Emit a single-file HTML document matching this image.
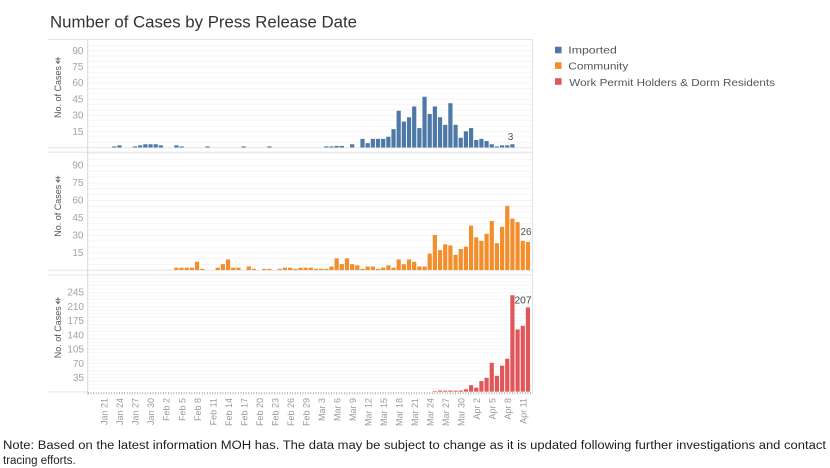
<!DOCTYPE html>
<html>
<head>
<meta charset="utf-8">
<style>
html,body{margin:0;padding:0;background:#fff;}
svg{display:block;}
text{font-family:"Liberation Sans",Arial,sans-serif;}
</style>
</head>
<body>
<svg width="830" height="468" viewBox="0 0 830 468" xmlns="http://www.w3.org/2000/svg">
<defs>
<pattern id="gT" patternUnits="userSpaceOnUse" x="0" y="147.5" width="10" height="5.4"><rect x="0" y="0" width="10" height="0.7" fill="#f0f0f0"/></pattern>
<pattern id="gM" patternUnits="userSpaceOnUse" x="0" y="270" width="10" height="5.835"><rect x="0" y="0" width="10" height="0.7" fill="#f0f0f0"/></pattern>
<pattern id="gB" patternUnits="userSpaceOnUse" x="0" y="391.7" width="10" height="3.56"><rect x="0" y="0" width="10" height="0.6" fill="#f2f2f2"/></pattern>
</defs>
<rect width="830" height="468" fill="#fff"/>

<!-- Title -->
<text x="50" y="27.3" font-size="17" fill="#333" textLength="307" lengthAdjust="spacingAndGlyphs">Number of Cases by Press Release Date</text>

<!-- gridlines -->
<rect x="88" y="41" width="444" height="105" fill="url(#gT)"/>
<rect x="88" y="153" width="444" height="116" fill="url(#gM)"/>
<rect x="88" y="276" width="444" height="115" fill="url(#gB)"/>

<!-- pane borders -->
<g stroke="#e3e3e3" stroke-width="1" fill="none">
<line x1="48" y1="39.5" x2="533" y2="39.5"/>
<line x1="48" y1="147.8" x2="533" y2="147.8"/>
<line x1="48" y1="152.3" x2="533" y2="152.3"/>
<line x1="48" y1="270.3" x2="533" y2="270.3"/>
<line x1="48" y1="275" x2="533" y2="275"/>
<line x1="48" y1="391.9" x2="88" y2="391.9"/>
<line x1="532.5" y1="39.5" x2="532.5" y2="392"/>
</g>
<line x1="87.7" y1="39.5" x2="87.7" y2="395" stroke="#d8d8d8" stroke-width="1"/>
<line x1="88" y1="393.2" x2="533" y2="393.2" stroke="#b5b5b5" stroke-width="2.4" stroke-dasharray="0.9 1.685"/>

<!-- Y tick labels -->
<g font-size="10" fill="#a3a3a3" text-anchor="end">
<text x="83.5" y="53.8">90</text>
<text x="83.5" y="70">75</text>
<text x="83.5" y="86.2">60</text>
<text x="83.5" y="102.4">45</text>
<text x="83.5" y="118.6">30</text>
<text x="83.5" y="134.8">15</text>

<text x="83.5" y="168.5">90</text>
<text x="83.5" y="186">75</text>
<text x="83.5" y="203.5">60</text>
<text x="83.5" y="221">45</text>
<text x="83.5" y="238.5">30</text>
<text x="83.5" y="256">15</text>

<text x="84" y="295.6">245</text>
<text x="84" y="309.8">210</text>
<text x="84" y="324.1">175</text>
<text x="84" y="338.4">140</text>
<text x="84" y="352.6">105</text>
<text x="84" y="366.9">70</text>
<text x="84" y="381.1">35</text>
</g>

<!-- Y axis titles -->
<g font-size="9" fill="#555">
<text transform="translate(61.2,118) rotate(-90)" textLength="52" lengthAdjust="spacingAndGlyphs">No. of Cases</text>
<text transform="translate(61.2,236.7) rotate(-90)" textLength="52" lengthAdjust="spacingAndGlyphs">No. of Cases</text>
<text transform="translate(61.2,358.3) rotate(-90)" textLength="52" lengthAdjust="spacingAndGlyphs">No. of Cases</text>
</g>
<g stroke="#666" stroke-width="0.9" fill="none">
<path d="M55.5,59 L60.5,59 M58,57 L58,63.5 M56,61 L58,63.5 L60,61"/>
<path d="M55.5,177.7 L60.5,177.7 M58,175.7 L58,182.2 M56,179.7 L58,182.2 L60,179.7"/>
<path d="M55.5,299.3 L60.5,299.3 M58,297.3 L58,303.8 M56,301.3 L58,303.8 L60,301.3"/>
</g>

<!-- Imported (top) -->
<g fill="#4e79a7">
<rect x="112.24" y="146.42" width="4.2" height="1.08"/>
<rect x="117.41" y="145.34" width="4.2" height="2.16"/>
<rect x="132.92" y="146.42" width="4.2" height="1.08"/>
<rect x="138.09" y="145.34" width="4.2" height="2.16"/>
<rect x="143.26" y="144.26" width="4.2" height="3.24"/>
<rect x="148.43" y="144.26" width="4.2" height="3.24"/>
<rect x="153.6" y="144.26" width="4.2" height="3.24"/>
<rect x="158.77" y="145.34" width="4.2" height="2.16"/>
<rect x="174.28" y="145.34" width="4.2" height="2.16"/>
<rect x="179.45" y="146.42" width="4.2" height="1.08"/>
<rect x="205.3" y="146.42" width="4.2" height="1.08"/>
<rect x="241.49" y="146.42" width="4.2" height="1.08"/>
<rect x="267.34" y="146.42" width="4.2" height="1.08"/>
<rect x="324.21" y="146.42" width="4.2" height="1.08"/>
<rect x="329.38" y="146.42" width="4.2" height="1.08"/>
<rect x="334.55" y="145.9" width="4.2" height="1.6"/>
<rect x="339.72" y="145.9" width="4.2" height="1.6"/>
<rect x="350.06" y="144.26" width="4.2" height="3.24"/>
<rect x="360.4" y="138.86" width="4.2" height="8.64"/>
<rect x="365.57" y="143.18" width="4.2" height="4.32"/>
<rect x="370.74" y="138.86" width="4.2" height="8.64"/>
<rect x="375.91" y="138.86" width="4.2" height="8.64"/>
<rect x="381.08" y="138.86" width="4.2" height="8.64"/>
<rect x="386.25" y="136.7" width="4.2" height="10.8"/>
<rect x="391.42" y="129.14" width="4.2" height="18.36"/>
<rect x="396.59" y="110.78" width="4.2" height="36.72"/>
<rect x="401.76" y="121.58" width="4.2" height="25.92"/>
<rect x="406.93" y="117.26" width="4.2" height="30.24"/>
<rect x="412.1" y="106.46" width="4.2" height="41.04"/>
<rect x="417.27" y="128.06" width="4.2" height="19.44"/>
<rect x="422.44" y="96.74" width="4.2" height="50.76"/>
<rect x="427.61" y="114.02" width="4.2" height="33.48"/>
<rect x="432.78" y="106.46" width="4.2" height="41.04"/>
<rect x="437.95" y="117.26" width="4.2" height="30.24"/>
<rect x="443.12" y="124.82" width="4.2" height="22.68"/>
<rect x="448.29" y="103.22" width="4.2" height="44.28"/>
<rect x="453.46" y="124.82" width="4.2" height="22.68"/>
<rect x="458.63" y="137.78" width="4.2" height="9.72"/>
<rect x="463.8" y="131.3" width="4.2" height="16.2"/>
<rect x="468.97" y="128.06" width="4.2" height="19.44"/>
<rect x="474.14" y="139.94" width="4.2" height="7.56"/>
<rect x="479.31" y="138.86" width="4.2" height="8.64"/>
<rect x="484.48" y="141.02" width="4.2" height="6.48"/>
<rect x="489.65" y="144.26" width="4.2" height="3.24"/>
<rect x="494.82" y="146.42" width="4.2" height="1.08"/>
<rect x="499.99" y="145.34" width="4.2" height="2.16"/>
<rect x="505.16" y="145.34" width="4.2" height="2.16"/>
<rect x="510.33" y="144.26" width="4.2" height="3.24"/>
</g>
<text x="510.5" y="140.2" font-size="10" fill="#555" text-anchor="middle">3</text>

<!-- Community (middle) -->
<g fill="#f28e2b">
<rect x="174.28" y="267.67" width="4.2" height="2.33"/>
<rect x="179.45" y="267.67" width="4.2" height="2.33"/>
<rect x="184.62" y="267.67" width="4.2" height="2.33"/>
<rect x="189.79" y="267.67" width="4.2" height="2.33"/>
<rect x="194.96" y="261.83" width="4.2" height="8.17"/>
<rect x="200.13" y="268.83" width="4.2" height="1.17"/>
<rect x="215.64" y="267.67" width="4.2" height="2.33"/>
<rect x="220.81" y="264.16" width="4.2" height="5.84"/>
<rect x="225.98" y="259.5" width="4.2" height="10.5"/>
<rect x="231.15" y="267.67" width="4.2" height="2.33"/>
<rect x="236.32" y="267.67" width="4.2" height="2.33"/>
<rect x="246.66" y="266.5" width="4.2" height="3.5"/>
<rect x="251.83" y="268.83" width="4.2" height="1.17"/>
<rect x="262.17" y="268.83" width="4.2" height="1.17"/>
<rect x="267.34" y="268.83" width="4.2" height="1.17"/>
<rect x="277.68" y="268.83" width="4.2" height="1.17"/>
<rect x="282.85" y="267.67" width="4.2" height="2.33"/>
<rect x="288.02" y="267.67" width="4.2" height="2.33"/>
<rect x="293.19" y="268.83" width="4.2" height="1.17"/>
<rect x="298.36" y="267.67" width="4.2" height="2.33"/>
<rect x="303.53" y="267.67" width="4.2" height="2.33"/>
<rect x="308.7" y="267.67" width="4.2" height="2.33"/>
<rect x="313.87" y="268.83" width="4.2" height="1.17"/>
<rect x="319.04" y="268.83" width="4.2" height="1.17"/>
<rect x="324.21" y="268.83" width="4.2" height="1.17"/>
<rect x="329.38" y="266.5" width="4.2" height="3.5"/>
<rect x="334.55" y="258.33" width="4.2" height="11.67"/>
<rect x="339.72" y="264.16" width="4.2" height="5.84"/>
<rect x="344.89" y="258.33" width="4.2" height="11.67"/>
<rect x="350.06" y="264.16" width="4.2" height="5.84"/>
<rect x="355.23" y="265.33" width="4.2" height="4.67"/>
<rect x="360.4" y="268.83" width="4.2" height="1.17"/>
<rect x="365.57" y="266.5" width="4.2" height="3.5"/>
<rect x="370.74" y="266.5" width="4.2" height="3.5"/>
<rect x="375.91" y="268.83" width="4.2" height="1.17"/>
<rect x="381.08" y="267.67" width="4.2" height="2.33"/>
<rect x="386.25" y="265.33" width="4.2" height="4.67"/>
<rect x="391.42" y="267.67" width="4.2" height="2.33"/>
<rect x="396.59" y="259.5" width="4.2" height="10.5"/>
<rect x="401.76" y="264.16" width="4.2" height="5.84"/>
<rect x="406.93" y="259.5" width="4.2" height="10.5"/>
<rect x="412.1" y="261.83" width="4.2" height="8.17"/>
<rect x="417.27" y="266.5" width="4.2" height="3.5"/>
<rect x="422.44" y="266.5" width="4.2" height="3.5"/>
<rect x="427.61" y="253.66" width="4.2" height="16.34"/>
<rect x="432.78" y="234.99" width="4.2" height="35.01"/>
<rect x="437.95" y="250.16" width="4.2" height="19.84"/>
<rect x="443.12" y="244.33" width="4.2" height="25.67"/>
<rect x="448.29" y="245.49" width="4.2" height="24.51"/>
<rect x="453.46" y="254.83" width="4.2" height="15.17"/>
<rect x="458.63" y="249.0" width="4.2" height="21.0"/>
<rect x="463.8" y="246.66" width="4.2" height="23.34"/>
<rect x="468.97" y="225.65" width="4.2" height="44.35"/>
<rect x="474.14" y="237.32" width="4.2" height="32.68"/>
<rect x="479.31" y="240.82" width="4.2" height="29.18"/>
<rect x="484.48" y="233.82" width="4.2" height="36.18"/>
<rect x="489.65" y="220.99" width="4.2" height="49.01"/>
<rect x="494.82" y="243.16" width="4.2" height="26.84"/>
<rect x="499.99" y="226.82" width="4.2" height="43.18"/>
<rect x="505.16" y="205.81" width="4.2" height="64.19"/>
<rect x="510.33" y="218.65" width="4.2" height="51.35"/>
<rect x="515.5" y="222.15" width="4.2" height="47.85"/>
<rect x="520.67" y="240.82" width="4.2" height="29.18"/>
<rect x="525.84" y="242" width="4.2" height="28"/>
</g>
<text x="526" y="235.2" font-size="10" fill="#555" text-anchor="middle">26</text>

<!-- Work Permit Holders (bottom) -->
<g fill="#e15759">
<rect x="432.78" y="391.1" width="4.2" height="0.6"/>
<rect x="437.95" y="390.48" width="4.2" height="1.22"/>
<rect x="443.12" y="390.68" width="4.2" height="1.02"/>
<rect x="448.29" y="390.48" width="4.2" height="1.22"/>
<rect x="453.46" y="390.68" width="4.2" height="1.02"/>
<rect x="458.63" y="390.48" width="4.2" height="1.22"/>
<rect x="463.8" y="389.26" width="4.2" height="2.44"/>
<rect x="468.97" y="385.19" width="4.2" height="6.51"/>
<rect x="474.14" y="387.63" width="4.2" height="4.07"/>
<rect x="479.31" y="381.12" width="4.2" height="10.58"/>
<rect x="484.48" y="377.86" width="4.2" height="13.84"/>
<rect x="489.65" y="362.8" width="4.2" height="28.9"/>
<rect x="494.82" y="375.83" width="4.2" height="15.87"/>
<rect x="499.99" y="365.65" width="4.2" height="26.05"/>
<rect x="505.16" y="358.73" width="4.2" height="32.97"/>
<rect x="510.33" y="295.24" width="4.2" height="96.46"/>
<rect x="515.5" y="329.43" width="4.2" height="62.27"/>
<rect x="520.67" y="325.77" width="4.2" height="65.93"/>
<rect x="525.84" y="307.45" width="4.2" height="84.25"/>
</g>
<text x="514.5" y="303.6" font-size="10" fill="#444" textLength="17" lengthAdjust="spacingAndGlyphs">207</text>

<!-- X axis labels -->
<g font-size="9" fill="#9a9a9a" text-anchor="end">
<text transform="translate(107.7,398) rotate(-90)">Jan 21</text>
<text transform="translate(123.21,398) rotate(-90)">Jan 24</text>
<text transform="translate(138.72,398) rotate(-90)">Jan 27</text>
<text transform="translate(154.23,398) rotate(-90)">Jan 30</text>
<text transform="translate(169.74,398) rotate(-90)">Feb 2</text>
<text transform="translate(185.25,398) rotate(-90)">Feb 5</text>
<text transform="translate(200.76,398) rotate(-90)">Feb 8</text>
<text transform="translate(216.27,398) rotate(-90)">Feb 11</text>
<text transform="translate(231.78,398) rotate(-90)">Feb 14</text>
<text transform="translate(247.29,398) rotate(-90)">Feb 17</text>
<text transform="translate(262.8,398) rotate(-90)">Feb 20</text>
<text transform="translate(278.31,398) rotate(-90)">Feb 23</text>
<text transform="translate(293.82,398) rotate(-90)">Feb 26</text>
<text transform="translate(309.33,398) rotate(-90)">Feb 29</text>
<text transform="translate(324.84,398) rotate(-90)">Mar 3</text>
<text transform="translate(340.35,398) rotate(-90)">Mar 6</text>
<text transform="translate(355.86,398) rotate(-90)">Mar 9</text>
<text transform="translate(371.37,398) rotate(-90)">Mar 12</text>
<text transform="translate(386.88,398) rotate(-90)">Mar 15</text>
<text transform="translate(402.39,398) rotate(-90)">Mar 18</text>
<text transform="translate(417.9,398) rotate(-90)">Mar 21</text>
<text transform="translate(433.41,398) rotate(-90)">Mar 24</text>
<text transform="translate(448.92,398) rotate(-90)">Mar 27</text>
<text transform="translate(464.43,398) rotate(-90)">Mar 30</text>
<text transform="translate(479.94,398) rotate(-90)">Apr 2</text>
<text transform="translate(495.45,398) rotate(-90)">Apr 5</text>
<text transform="translate(510.96,398) rotate(-90)">Apr 8</text>
<text transform="translate(526.47,398) rotate(-90)">Apr 11</text>
</g>

<!-- Legend -->
<rect x="555" y="46.7" width="6.6" height="6.6" fill="#4e79a7"/>
<rect x="555" y="62.3" width="6.6" height="6.6" fill="#f28e2b"/>
<rect x="555" y="78.2" width="6.6" height="6.6" fill="#e15759"/>
<g font-size="10.5" fill="#555">
<text x="568.3" y="53.4" textLength="48.5" lengthAdjust="spacingAndGlyphs">Imported</text>
<text x="568.3" y="69.4" textLength="60" lengthAdjust="spacingAndGlyphs">Community</text>
<text x="569.3" y="86.2" textLength="205.7" lengthAdjust="spacingAndGlyphs">Work Permit Holders &amp; Dorm Residents</text>
</g>

<!-- Note -->
<g font-size="11.5" fill="#1e1e1e">
<text x="3" y="448.8" textLength="823" lengthAdjust="spacingAndGlyphs">Note: Based on the latest information MOH has. The data may be subject to change as it is updated following further investigations and contact</text>
<text x="3" y="464.2">tracing efforts.</text>
</g>
</svg>
</body>
</html>
